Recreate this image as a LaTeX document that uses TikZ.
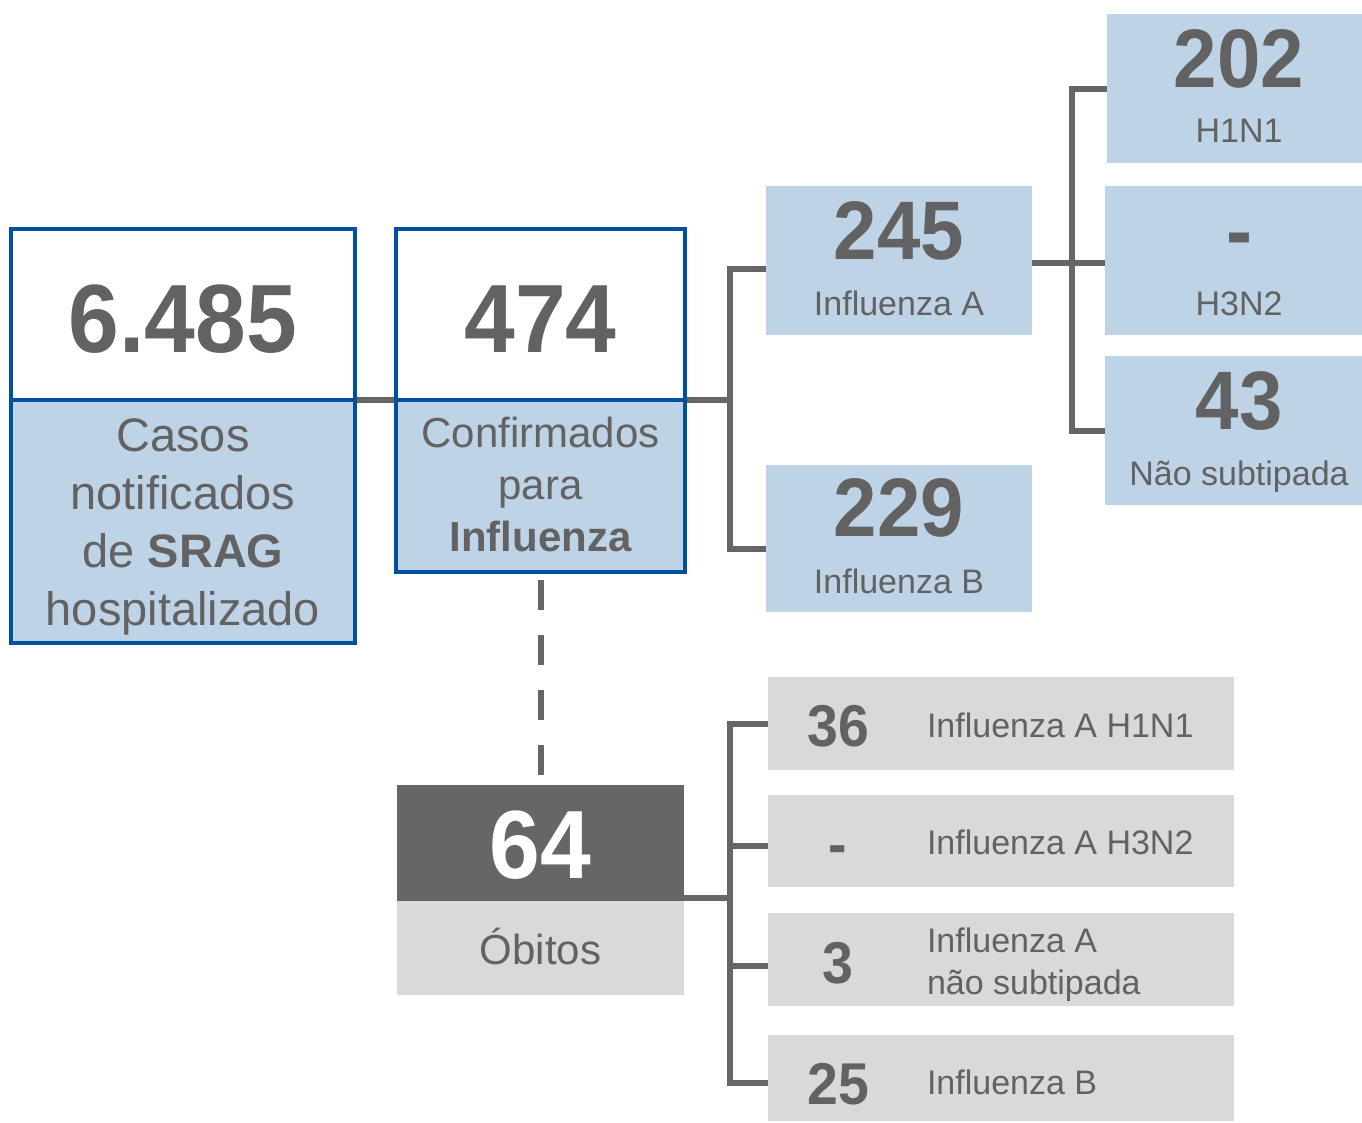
\documentclass[tikz,border=0pt]{standalone}
\usepackage{fontspec}
\setmainfont{Liberation Sans}
\newfontfamily\nf[FakeStretch=0.94]{Liberation Sans}
\definecolor{txt}{RGB}{98,98,98}
\definecolor{lb}{RGB}{191,211,231}
\definecolor{bb}{RGB}{0,80,160}
\definecolor{lg}{RGB}{217,217,217}
\definecolor{dg}{RGB}{102,102,102}
\begin{document}
\begin{tikzpicture}[x=1pt,y=-1pt,
  box/.style={rectangle, inner sep=0pt, outer sep=0pt, draw=none},
  num/.style={inner sep=0pt, outer sep=0pt, text=txt, anchor=base, font=\nf\bfseries\fontsize{#1}{#1}\selectfont},
  lab/.style={inner sep=0pt, outer sep=0pt, text=txt, anchor=base, font=\fontsize{#1}{#1}\selectfont},
  conn/.style={draw=dg, line width=6pt},
  dashl/.style={draw=dg, line width=6pt, dash pattern=on 30pt off 25pt},
  bord/.style={draw=bb, line width=4.5pt}]
\useasboundingbox (0,0) rectangle (1362,1122);

% main boxes
\node[box, fill=white, minimum width=344pt, minimum height=171pt] (t1) at (183,314.5) {};
\node[box, fill=lb, minimum width=344pt, minimum height=243pt] (b1) at (183,521.5) {};
\node[box, fill=white, minimum width=289pt, minimum height=171pt] (t2) at (540.5,314.5) {};
\node[box, fill=lb, minimum width=289pt, minimum height=172pt] (b2) at (540.5,486) {};

\node[num=97] (v1) at (183,352) {6.485};
\node[box, text=txt, align=center, font=\fontsize{47}{58}\selectfont] (l1) at (183,527) {Casos\\notificados\\de \textbf{SRAG}\\hospitalizado};
\node[num=97] (v2) at (540.5,352) {474};
\node[box, text=txt, align=center, font=\fontsize{42}{52}\selectfont] (l2) at (540.5,484) {Confirmados\\para\\\textbf{Influenza}};

% influenza boxes
\node[box, fill=lb, minimum width=266pt, minimum height=149pt] (iA) at (899,260.5) {};
\node[box, fill=lb, minimum width=266pt, minimum height=147pt] (iB) at (899,538.5) {};
\node[box, fill=lb, minimum width=255pt, minimum height=149pt] (h1) at (1234.5,88.5) {};
\node[box, fill=lb, minimum width=257pt, minimum height=149pt] (h3) at (1233.5,260.5) {};
\node[box, fill=lb, minimum width=257pt, minimum height=149pt] (ns) at (1233.5,430.5) {};

\node[num=83] (vA) at (899,259) {245};
\node[lab=34] (lA) at (899,315) {Influenza A};
\node[num=83] (vB) at (899,536) {229};
\node[lab=34] (lB) at (899,593) {Influenza B};
\node[num=83] (vh1) at (1239,87) {202};
\node[lab=34] (lh1) at (1239,142) {H1N1};
\node[num=83] (vh3) at (1239,259) {-};
\node[lab=34] (lh3) at (1239,315) {H3N2};
\node[num=83] (vns) at (1239,429) {43};
\node[lab=34] (lns) at (1239,485) {Não subtipada};

% deaths
\node[box, fill=dg, minimum width=287pt, minimum height=116pt] (d1) at (540.5,843) {};
\node[box, fill=lg, minimum width=287pt, minimum height=94pt] (d2) at (540.5,948) {};
\node[num=97, text=white] (v64) at (540.5,878) {64};
\node[lab=42] (lob) at (540.5,964) {Óbitos};

\node[box, fill=lg, minimum width=466pt, minimum height=93pt] (g1) at (1001,723.5) {};
\node[box, fill=lg, minimum width=466pt, minimum height=92pt] (g2) at (1001,841) {};
\node[box, fill=lg, minimum width=466pt, minimum height=93pt] (g3) at (1001,959.5) {};
\node[box, fill=lg, minimum width=466pt, minimum height=86pt] (g4) at (1001,1078) {};

\node[num=59] (vg1) at (838,746) {36};
\node[lab=34, anchor=base west] (lg1) at (927,737) {Influenza A H1N1};
\node[num=59] (vg2) at (838,864) {-};
\node[lab=34, anchor=base west] (lg2) at (927,854) {Influenza A H3N2};
\node[num=59] (vg3) at (838,983) {3};
\node[lab=34, anchor=base west, align=left, font=\fontsize{34}{42}\selectfont] (lg3) at (927,994) {Influenza A\\não subtipada};
\node[num=59] (vg4) at (838,1104) {25};
\node[lab=34, anchor=base west] (lg4) at (927,1094) {Influenza B};

% connectors
\coordinate (j1) at (730,400);
\coordinate (j2) at (1072,263);
\coordinate (j3) at (730,898);
\draw[conn] (t1.south east) -- (t2.south west);
\draw[conn] (t2.south east) -- (j1);
\draw[conn] ([yshift=-8pt]iA.west) -| (j1) |- ([yshift=-10pt]iB.west);
\draw[conn] ([yshift=-2.5pt]iA.east) -- (j2);
\draw[conn] (h1.west) -| (j2) |- (ns.west);
\draw[conn] (j2) -- (j2 -| h3.west);
\draw[dashl] ([yshift=-8pt]b2.south) -- ([yshift=5pt]d1.north);
\draw[conn] ([yshift=3pt]d1.south east) -- (j3);
\draw[conn] (g1.west) -| (j3) |- ([yshift=-5pt]g4.west);
\draw[conn] ([yshift=-5pt]g2.west) -- ([yshift=-5pt]g2.west -| j3);
\draw[conn] ([yshift=-6pt]g3.west) -- ([yshift=-6pt]g3.west -| j3);

% blue borders
\draw[bord] (t1.north west) rectangle (b1.south east);
\draw[bord] (t1.south west) -- (t1.south east);
\draw[bord] (t2.north west) rectangle (b2.south east);
\draw[bord] (t2.south west) -- (t2.south east);
\end{tikzpicture}
\end{document}
